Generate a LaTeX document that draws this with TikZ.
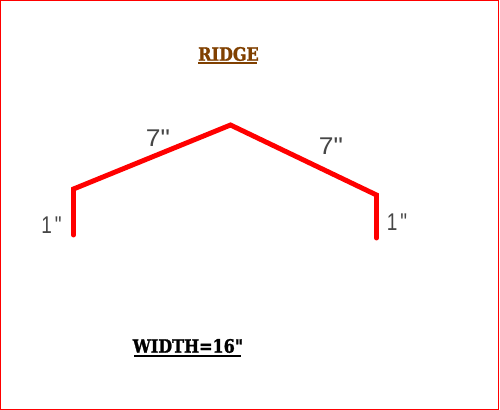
\documentclass[tikz,border=0pt]{standalone}
\usepackage{fontspec}
\setmainfont{DejaVu Sans}
\newfontfamily\slabfont{DejaVu Serif}[BoldFont={DejaVu Serif Bold},BoldFeatures={FakeBold=1.5}]
\newfontfamily\thinfont{Liberation Sans}
\definecolor{ridgebrown}{RGB}{128,64,0}
\definecolor{dimgrey}{RGB}{70,70,70}
\tikzset{
  panel/.style={draw=red,line width=3.7pt,line join=miter,line cap=round},
  frame/.style={draw=red,line width=0.75pt},
  dimlabel/.style={inner sep=0pt,text=dimgrey,font=\thinfont\fontsize{16.5}{17}\selectfont,xscale=1.2,yscale=1.1},
  shortlabel/.style={dimlabel,xscale=0.72},
  heading/.style={inner sep=0pt,yscale=1.15,font=\slabfont\bfseries\fontsize{12}{13}\selectfont}
}
\begin{document}
\begin{tikzpicture}[x=0.75pt,y=-0.75pt]
\useasboundingbox (0,0) rectangle (500,410);
\fill[white] (0,0) rectangle (500,410);
\draw[frame] (0.5,0.5) rectangle (498.5,409.5);
\coordinate (a) at (73.5,235);
\coordinate (b) at (73.5,189);
\coordinate (c) at (230.5,125);
\coordinate (d) at (376.5,195);
\coordinate (e) at (376.5,238);
\draw[panel] (a) -- (b) -- (c) -- (d) -- (e);
\node[heading,text=ridgebrown] (ridge) at (228.5,54) {RIDGE};
\draw[draw=ridgebrown,line width=1.5pt] (198,63.5) -- (257,63.5);
\node[heading,text=black] (width) at (188,346) {WIDTH=16"};
\draw[draw=black,line width=1.5pt] (134,355.5) -- (241,355.5);
\node[dimlabel] (lefts) at (158,138.5) {7"};
\node[dimlabel] (rights) at (331,146) {7"};
\node[shortlabel] (leftv) at (51.5,225.5) {1\,"};
\node[shortlabel] (rightv) at (397,222.5) {1\,"};
\end{tikzpicture}
\end{document}
